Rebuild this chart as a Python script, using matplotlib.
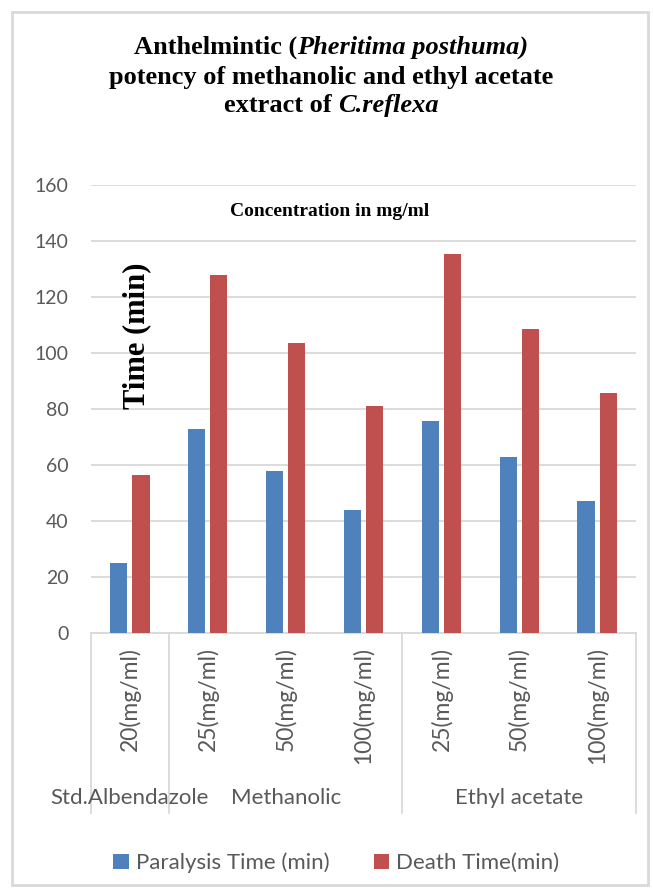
import matplotlib
matplotlib.use("Agg")
import matplotlib.pyplot as plt
import numpy as np
from matplotlib.patches import Rectangle

# data
doses = ["20(mg/ml)", "25(mg/ml)", "50(mg/ml)", "100(mg/ml)",
         "25(mg/ml)", "50(mg/ml)", "100(mg/ml)"]
groups = ["Std.Albendazole", "Methanolic", "Ethyl acetate"]
group_sizes = [1, 3, 3]
paralysis = [25.1, 73.0, 57.9, 43.8, 75.6, 63.0, 47.1]
death = [56.5, 128.0, 103.6, 81.0, 135.2, 108.6, 85.6]

# title pieces: (text, italic?)
title_lines = [
    [("Anthelmintic (", False), ("Pheritima posthuma)", True)],
    [("potency of methanolic and ethyl acetate", False)],
    [("extract of ", False), ("C.reflexa", True)],
]

blue = "#4f81bd"
red = "#c0504d"
gray_txt = "#595959"
grid_col = "#d9d9d9"

fig = plt.figure(figsize=(6.53, 8.92), dpi=100)
ax = fig.add_axes([91/653, 1-633/892, 545/653, 448/892])

x = np.arange(len(doses))
w = 0.22
ax.bar(x - 0.142, paralysis, w, color=blue, label="Paralysis Time (min)", zorder=3)
ax.bar(x + 0.142, death, w, color=red, label="Death Time(min)", zorder=3)

ax.set_xlim(-0.5, len(doses) - 0.5)
ax.set_ylim(0, 160)
ax.set_yticks(range(0, 161, 20))
ax.yaxis.grid(True, color=grid_col, lw=1.3, zorder=0)
ax.set_axisbelow(True)
for s in ["top", "right", "left"]:
    ax.spines[s].set_visible(False)
ax.spines["bottom"].set_color(grid_col)
ax.spines["bottom"].set_linewidth(1.3)

ax.set_xticks(x)
ax.set_xticklabels(doses, rotation=90, fontfamily="Lato", fontsize=16.5,
                   color=gray_txt, va="top", ha="center")
ax.tick_params(axis="x", length=0, pad=10)
ax.tick_params(axis="y", length=0, pad=16, labelsize=14, labelcolor=gray_txt)
for lab in ax.get_yticklabels():
    lab.set_fontfamily("Lato")

# group labels and separators under the axis
bounds = np.concatenate([[0], np.cumsum(group_sizes)]) - 0.5
trans = ax.get_xaxis_transform()
for b in bounds:
    ax.plot([b, b], [0, -180/448], color=grid_col, lw=1.3, transform=trans, clip_on=False)
for i, g in enumerate(groups):
    cx = (bounds[i] + bounds[i+1]) / 2
    ax.text(cx, -165/448, g, transform=trans, ha="center", va="center",
            fontfamily="Lato", fontsize=16, color=gray_txt)

# text inside the plot
ax.text(2.56, 150.4, "Concentration in mg/ml", ha="center", va="center",
        fontfamily="Liberation Serif", fontweight="bold", fontsize=14)
ax.text(0.09, 106, "Time (min)", rotation=90, ha="center", va="center",
        fontfamily="Liberation Serif", fontweight="bold", fontsize=22)

# title, built piece by piece so the italic parts sit inline
line_y = [1-54/892, 1-84/892, 1-112/892]
rows = []
for pieces, y in zip(title_lines, line_y):
    row = []
    prev = None
    for txt, ital in pieces:
        style = "italic" if ital else "normal"
        if prev is None:
            t = fig.text(0.5, y, txt, ha="left", va="baseline", fontfamily="Liberation Serif",
                         fontweight="bold", fontstyle=style, fontsize=19)
        else:
            t = fig.text(0, 0, txt, ha="left", va="baseline", fontfamily="Liberation Serif",
                         fontweight="bold", fontstyle=style, fontsize=19)
        row.append(t)
        prev = t
    rows.append(row)

fig.canvas.draw()
r = fig.canvas.get_renderer()
for row, y in zip(rows, line_y):
    widths = [t.get_window_extent(r).width for t in row]
    x0 = 0.507 * fig.bbox.width - sum(widths) / 2
    for t, wd in zip(row, widths):
        t.set_position((x0 / fig.bbox.width, y))
        x0 += wd

fig.legend(loc="center", bbox_to_anchor=(0.515, 1-863/892), ncol=2, frameon=False,
           prop={"family": "Lato", "size": 16}, labelcolor=gray_txt,
           handlelength=0.7, handleheight=0.7, handletextpad=0.3, columnspacing=2.0)

fig.patches.append(Rectangle((12/653, 1-885/892), 636/653, 873/892, transform=fig.transFigure,
                             fill=False, edgecolor=grid_col, lw=2))

fig.savefig("out.png", dpi=100)
